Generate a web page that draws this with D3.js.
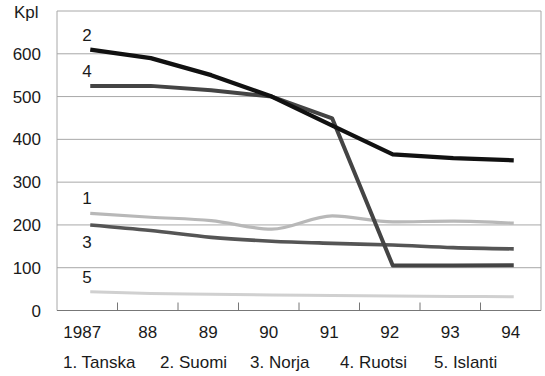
<!DOCTYPE html>
<html>
<head>
<meta charset="utf-8">
<script src="https://cdn.jsdelivr.net/npm/d3@7/dist/d3.min.js"></script>
<style>
  html, body { margin: 0; padding: 0; background: #fff; }
  svg { display: block; }
  text { font-family: "Liberation Sans", Arial, sans-serif; fill: #1a1a1a; }
</style>
</head>
<body>
<svg id="chart" width="545" height="376"></svg>
<script>
// Years along the x axis (labels as printed)
const years = ["1987", "88", "89", "90", "91", "92", "93", "94"];

// Values per country, thousands (Kpl)
const tanska  = [227, 218, 210, 190, 221, 207, 209, 204];
const suomi   = [610, 590, 550, 500, 432, 365, 356, 351];
const norja   = [200, 187, 171, 162, 157, 153, 147, 144];
const ruotsi  = [525, 525, 515, 500, 449, 105, 105, 106];
const islanti = [44, 40, 38, 36, 35, 34, 33, 32];

const yTicks = [0, 100, 200, 300, 400, 500, 600];
const legendItems = ["1. Tanska", "2. Suomi", "3. Norja", "4. Ruotsi", "5. Islanti"];

// Drawing order: light lines first, Suomi on top
const series = [
  { key: "5", values: islanti, color: "#d0d0d0", width: 3,   smooth: true,  below: false },
  { key: "1", values: tanska,  color: "#b8b8b8", width: 3.2, smooth: true,  below: false },
  { key: "3", values: norja,   color: "#555555", width: 3.6, smooth: true,  below: true },
  { key: "4", values: ruotsi,  color: "#444444", width: 4,   smooth: false, below: false },
  { key: "2", values: suomi,   color: "#111111", width: 4.3, smooth: false, below: false }
];

const svg = d3.select("#chart");
const plotLeft = 57, plotRight = 541, plotTop = 11, plotBottom = 310.5;

const x = d3.scaleBand().domain(years).range([plotLeft, plotRight]).padding(0);
const y = d3.scaleLinear().domain([0, 700]).range([plotBottom, plotTop]);
const px = d => x(d) + x.bandwidth() / 2 + 3;

// Horizontal gridlines and frame
svg.append("g")
  .selectAll("line")
  .data(yTicks.filter(t => t > 0).concat([700]))
  .join("line")
  .attr("x1", plotLeft).attr("x2", plotRight)
  .attr("y1", d => y(d)).attr("y2", d => y(d))
  .attr("stroke", "#a8a8a8").attr("stroke-width", 1);

svg.append("line")
  .attr("x1", plotLeft).attr("x2", plotLeft).attr("y1", plotTop).attr("y2", plotBottom)
  .attr("stroke", "#a8a8a8");
svg.append("line")
  .attr("x1", plotRight).attr("x2", plotRight).attr("y1", plotTop).attr("y2", plotBottom)
  .attr("stroke", "#a8a8a8");

// Bottom axis with inward ticks between the years
svg.append("line")
  .attr("x1", plotLeft).attr("x2", plotRight).attr("y1", plotBottom).attr("y2", plotBottom)
  .attr("stroke", "#777").attr("stroke-width", 1.2);
svg.append("g")
  .selectAll("line")
  .data(years.slice(1))
  .join("line")
  .attr("x1", d => x(d)).attr("x2", d => x(d))
  .attr("y1", plotBottom).attr("y2", plotBottom - 8)
  .attr("stroke", "#777");

// Y labels
svg.append("g")
  .selectAll("text")
  .data(yTicks)
  .join("text")
  .attr("x", 41)
  .attr("y", d => y(d) + 6)
  .attr("text-anchor", "end")
  .attr("font-size", 17)
  .text(d => d);

svg.append("text")
  .attr("x", 14).attr("y", 18)
  .attr("font-size", 17)
  .text("Kpl");

// X labels
svg.append("g")
  .selectAll("text")
  .data(years)
  .join("text")
  .attr("x", d => x(d) + x.bandwidth() / 2 - (d.length > 2 ? 5 : 0))
  .attr("y", 338)
  .attr("text-anchor", "middle")
  .attr("font-size", 17)
  .text(d => d);

// Lines
const smoothLine = d3.line()
  .x((d, i) => px(years[i]))
  .y(d => y(d))
  .curve(d3.curveMonotoneX);
const straightLine = d3.line()
  .x((d, i) => px(years[i]))
  .y(d => y(d));

svg.append("g")
  .selectAll("path")
  .data(series)
  .join("path")
  .attr("d", d => (d.smooth ? smoothLine : straightLine)(d.values))
  .attr("fill", "none")
  .attr("stroke", d => d.color)
  .attr("stroke-width", d => d.width)
  .attr("stroke-linejoin", "round");

// Series number labels near each line start
svg.append("g")
  .selectAll("text")
  .data(series)
  .join("text")
  .attr("x", 87)
  .attr("y", d => y(d.values[0]) + (d.below ? 23 : -9))
  .attr("text-anchor", "middle")
  .attr("font-size", 17)
  .text(d => d.key);

// Legend row
const legendX = [63, 160, 250, 340, 434];
svg.append("g")
  .selectAll("text")
  .data(legendItems)
  .join("text")
  .attr("x", (d, i) => legendX[i])
  .attr("y", 368)
  .attr("font-size", 17)
  .text(d => d);
</script>
</body>
</html>
